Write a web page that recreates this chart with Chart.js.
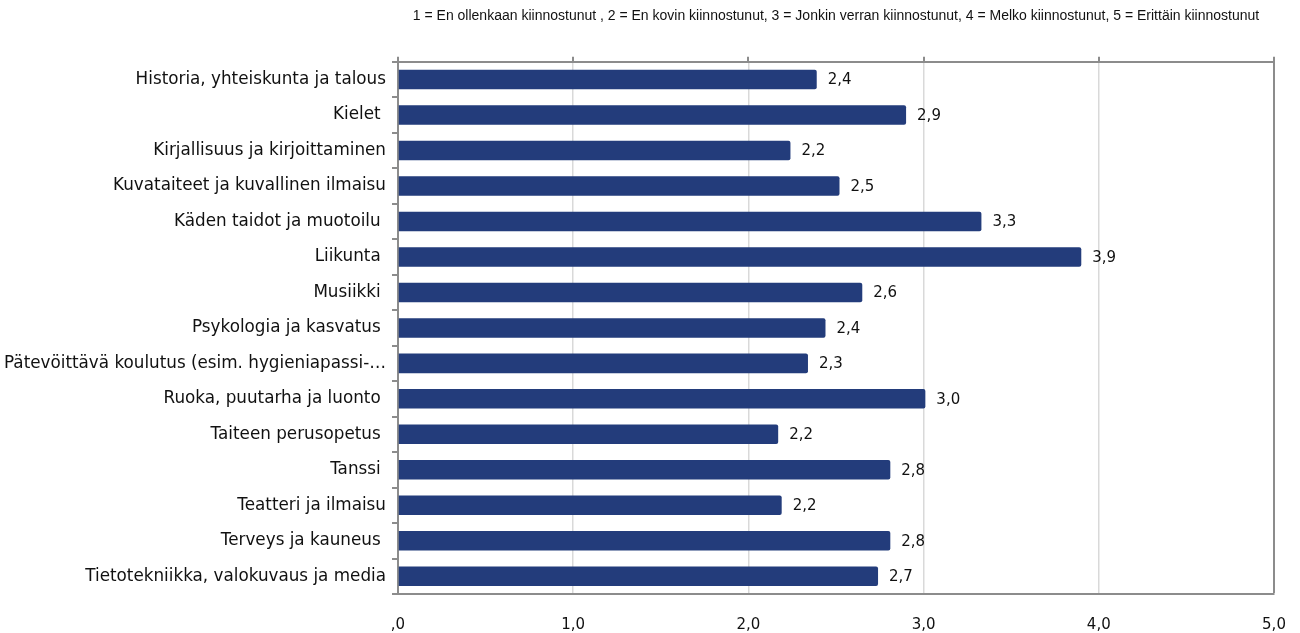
<!DOCTYPE html>
<html lang="fi">
<head>
    <meta charset="UTF-8">
    <title>Kiinnostus</title>
    <script src="https://cdn.jsdelivr.net/npm/chart.js"></script>
    <style>
        html, body { margin: 0; padding: 0; background: #fff; }
        #wrap { width: 1300px; height: 633px; }
    </style>
</head>
<body>
<div id="wrap"><canvas id="myChart"></canvas></div>
<script>
    // aiheet (y-akseli)
    const categories = [
        'Historia, yhteiskunta ja talous',
        'Kielet ',
        'Kirjallisuus ja kirjoittaminen',
        'Kuvataiteet ja kuvallinen ilmaisu',
        'Käden taidot ja muotoilu ',
        'Liikunta ',
        'Musiikki ',
        'Psykologia ja kasvatus ',
        'Pätevöittävä koulutus (esim. hygieniapassi-…',
        'Ruoka, puutarha ja luonto ',
        'Taiteen perusopetus ',
        'Tanssi ',
        'Teatteri ja ilmaisu',
        'Terveys ja kauneus ',
        'Tietotekniikka, valokuvaus ja media'
    ];
    // keskiarvot
    const values = [2.39, 2.90, 2.24, 2.52, 3.33, 3.90, 2.65, 2.44, 2.34, 3.01, 2.17, 2.81, 2.19, 2.81, 2.74];
    const xTicks = [0, 1, 2, 3, 4, 5];
    const scaleNote = '1 = En ollenkaan kiinnostunut , 2 = En kovin kiinnostunut, 3 = Jonkin verran kiinnostunut, 4 = Melko kiinnostunut, 5 = Erittäin kiinnostunut';

    const fmt = v => v === 0 ? ',0' : v.toFixed(1).replace('.', ',');
    const axisGray = '#8c8c8c';

    // arvot palkkien perään
    const valueLabels = {
        id: 'valueLabels',
        afterDatasetsDraw(chart) {
            const ctx = chart.ctx;
            const meta = chart.getDatasetMeta(0);
            ctx.save();
            ctx.font = '15px "DejaVu Sans"';
            ctx.fillStyle = '#111';
            ctx.textAlign = 'left';
            ctx.textBaseline = 'middle';
            meta.data.forEach((bar, i) => {
                ctx.fillText(fmt(values[i]), bar.x + 11, bar.y + 1);
            });
            ctx.restore();
        }
    };

    const data = {
        labels: categories,
        datasets: [{
            data: values,
            backgroundColor: '#233c7b',
            borderWidth: 0,
            borderRadius: 2,
            borderSkipped: 'start',
            barPercentage: 0.55,
            categoryPercentage: 1
        }]
    };

    const noSidePad = s => { s.paddingLeft = 0; s.paddingRight = 0; };

    const config = {
        type: 'bar',
        data: data,
        plugins: [valueLabels],
        options: {
            indexAxis: 'y',
            responsive: true,
            maintainAspectRatio: false,
            animation: false,
            layout: { padding: { left: 0, right: 26, top: 0, bottom: 0 } },
            plugins: {
                legend: { display: false },
                tooltip: { enabled: false },
                title: {
                    display: true,
                    text: scaleNote,
                    fullSize: false,
                    color: '#111',
                    font: { family: '"Liberation Sans"', size: 14, weight: 'normal' },
                    padding: { top: 8, bottom: 29 }
                }
            },
            scales: {
                x: {
                    position: 'bottom',
                    min: 0,
                    max: 5,
                    afterBuildTicks: s => { s.ticks = xTicks.map(v => ({ value: v })); },
                    afterFit: s => { s.height = 39; noSidePad(s); },
                    grid: {
                        color: c => c.tick && c.tick.value === 5 ? axisGray : '#d9d9d9',
                        lineWidth: c => c.tick && c.tick.value === 5 ? 2 : 1.5,
                        drawTicks: false
                    },
                    border: { color: axisGray, width: 2 },
                    ticks: {
                        callback: v => fmt(v),
                        color: '#111',
                        padding: 22,
                        font: { family: '"DejaVu Sans"', size: 15 }
                    }
                },
                xTop: {
                    position: 'top',
                    type: 'linear',
                    min: 0,
                    max: 5,
                    afterBuildTicks: s => { s.ticks = xTicks.map(v => ({ value: v })); },
                    afterFit: s => { s.height = 8; noSidePad(s); },
                    grid: { drawOnChartArea: false, color: axisGray, lineWidth: 2, tickLength: 5 },
                    border: { color: axisGray, width: 2 },
                    ticks: { display: false }
                },
                y: {
                    afterFit: s => { s.width = 398; s.paddingTop = 0; s.paddingBottom = 0; },
                    grid: {
                        offset: true,
                        drawOnChartArea: false,
                        color: axisGray,
                        lineWidth: 2,
                        tickLength: 6
                    },
                    border: { color: axisGray, width: 2 },
                    ticks: {
                        color: '#111',
                        padding: 6,
                        autoSkip: false,
                        font: { family: '"DejaVu Sans"', size: 16.8 }
                    }
                }
            }
        }
    };

    const myChart = new Chart(document.querySelector('#myChart'), config);
</script>
</body>
</html>
